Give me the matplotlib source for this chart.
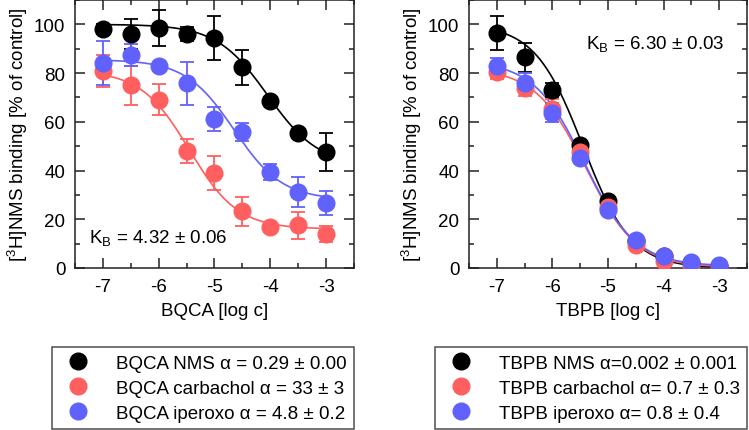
import numpy as np
import matplotlib
matplotlib.use("Agg")
import matplotlib.pyplot as plt
from matplotlib.ticker import MultipleLocator
from matplotlib.lines import Line2D

plt.rcParams['font.family'] = ['Liberation Sans', 'DejaVu Sans']
plt.rcParams['mathtext.fontset'] = 'custom'
plt.rcParams['mathtext.rm'] = 'Liberation Sans'
plt.rcParams['axes.unicode_minus'] = False
plt.rcParams['font.size'] = 13.5

logc = [-7, -6.5, -6, -5.5, -5, -4.5, -4, -3.5, -3]

# BQCA panel
bqca_nms = [98, 96, 98.5, 96, 94.5, 82.3, 68.6, 55.5, 47.6]
bqca_nms_err = [2, 6, 7.3, 3, 9, 7.3, 1, 1, 7.7]
bqca_carb = [80.9, 75, 69, 48.1, 39, 23.2, 16.9, 17.6, 14.1]
bqca_carb_err = [6.5, 8, 6.4, 5, 7, 5.9, 1, 5.5, 3.3]
bqca_ipx = [84.3, 87.4, 83, 75.8, 61.1, 55.8, 39.4, 31.2, 26.7]
bqca_ipx_err = [9, 4.5, 1, 8.7, 4.9, 3.8, 3.3, 6, 4.8]

# TBPB panel
tbpb_nms = [96.6, 86.4, 73.1, 50.6, 27.6, 11, 5, 2, 1]
tbpb_nms_err = [7, 6, 3, 1.5, 1.5, 1, 1, 1, 1]
tbpb_carb = [80.5, 73.7, 65.2, 47.5, 25, 9.3, 2.7, 1.1, 0.4]
tbpb_carb_err = [3, 3, 4, 1.5, 1.5, 1, 1, 1, 1]
tbpb_ipx = [83, 76.1, 63.8, 45.2, 24, 11.3, 4.9, 2.5, 1.1]
tbpb_ipx_err = [3, 4, 4, 1.5, 1.5, 1, 1, 1, 1]

# fitted curve parameters: top, bottom, log midpoint, slope
fit_bqca = {'nms': (100, 42, -4.05, 0.95),
            'carb': (81, 16, -5.45, 1.0),
            'ipx': (85.5, 28, -4.65, 1.0)}
fit_tbpb = {'nms': (100, 0, -5.45, 1.0),
            'carb': (82, 0.3, -5.4, 0.95),
            'ipx': (85, 0.8, -5.42, 0.95)}

labels_bqca = ["BQCA NMS \u03b1 = 0.29 \u00b1 0.00",
               "BQCA carbachol \u03b1 = 33 \u00b1 3",
               "BQCA iperoxo \u03b1 = 4.8 \u00b1 0.2"]
labels_tbpb = ["TBPB NMS \u03b1=0.002 \u00b1 0.001",
               "TBPB carbachol \u03b1= 0.7 \u00b1 0.3",
               "TBPB iperoxo \u03b1= 0.8 \u00b1 0.4"]

black = "#000000"
red = "#ff5f5f"
blue = "#6161fd"


def curve(x, p):
    top, bottom, mid, h = p
    return bottom + (top - bottom) / (1 + 10 ** ((x - mid) * h))


def panel(ax, sets, fits, xlabel, labels, legend_box):
    xs = np.linspace(-7, -3, 200)
    for key, (y, e, col) in zip(['nms', 'carb', 'ipx'], sets):
        ax.plot(xs, curve(xs, fits[key]), color=col, lw=1.2, zorder=2)
    for key, (y, e, col) in zip(['nms', 'carb', 'ipx'], sets):
        ax.errorbar(logc, y, yerr=e, fmt='o', color=col, ms=12,
                    capsize=5, elinewidth=1.3, capthick=1.3, zorder=3)
    ax.set_xlim(-7.5, -2.5)
    ax.set_ylim(0, 110)
    ax.xaxis.set_major_locator(MultipleLocator(1))
    ax.xaxis.set_minor_locator(MultipleLocator(0.5))
    ax.yaxis.set_major_locator(MultipleLocator(20))
    ax.yaxis.set_minor_locator(MultipleLocator(10))
    ax.tick_params(which='both', direction='in', top=True, right=True,
                   width=1.1, color='#222222', labelsize=13.5)
    ax.tick_params(which='major', length=7, pad=7)
    ax.tick_params(which='minor', length=3.5)
    for s in ax.spines.values():
        s.set_linewidth(1.1)
        s.set_color('#222222')
    ax.set_xlabel(xlabel, fontsize=13.5, labelpad=5)
    ax.set_ylabel("[$^3$H]NMS binding [% of control]", fontsize=13.5,
                  labelpad=3)
    handles = [Line2D([], [], marker='o', ls='none', color=c, ms=12)
               for (_, _, c) in sets]
    leg = fig.legend(handles, labels, loc='center', bbox_to_anchor=legend_box,
                     bbox_transform=fig.transFigure, fontsize=13.5,
                     frameon=True, fancybox=False, edgecolor='#222222',
                     handletextpad=1.0, labelspacing=0.42, borderpad=0.4,
                     handlelength=2.0, borderaxespad=0)
    leg.get_frame().set_linewidth(1.1)


fig = plt.figure(figsize=(7.49, 4.31), dpi=100)
ax1 = fig.add_axes([0.1001, 0.3759, 0.3725, 0.6218])
ax2 = fig.add_axes([0.6262, 0.3759, 0.3712, 0.6218])

panel(ax1, [(bqca_nms, bqca_nms_err, black),
            (bqca_carb, bqca_carb_err, red),
            (bqca_ipx, bqca_ipx_err, blue)],
      fit_bqca, "BQCA [log c]", labels_bqca, (203 / 749, 1 - 389 / 431))
panel(ax2, [(tbpb_nms, tbpb_nms_err, black),
            (tbpb_carb, tbpb_carb_err, red),
            (tbpb_ipx, tbpb_ipx_err, blue)],
      fit_tbpb, "TBPB [log c]", labels_tbpb, (591 / 749, 1 - 389 / 431))

ax1.text(-7.25, 12.5, "K$_\\mathregular{B}$ = 4.32 \u00b1 0.06",
         va='center', ha='left')
ax2.text(-5.39, 91.8, "K$_\\mathregular{B}$ = 6.30 \u00b1 0.03",
         va='center', ha='left')

fig.savefig("out.png", dpi=100)
